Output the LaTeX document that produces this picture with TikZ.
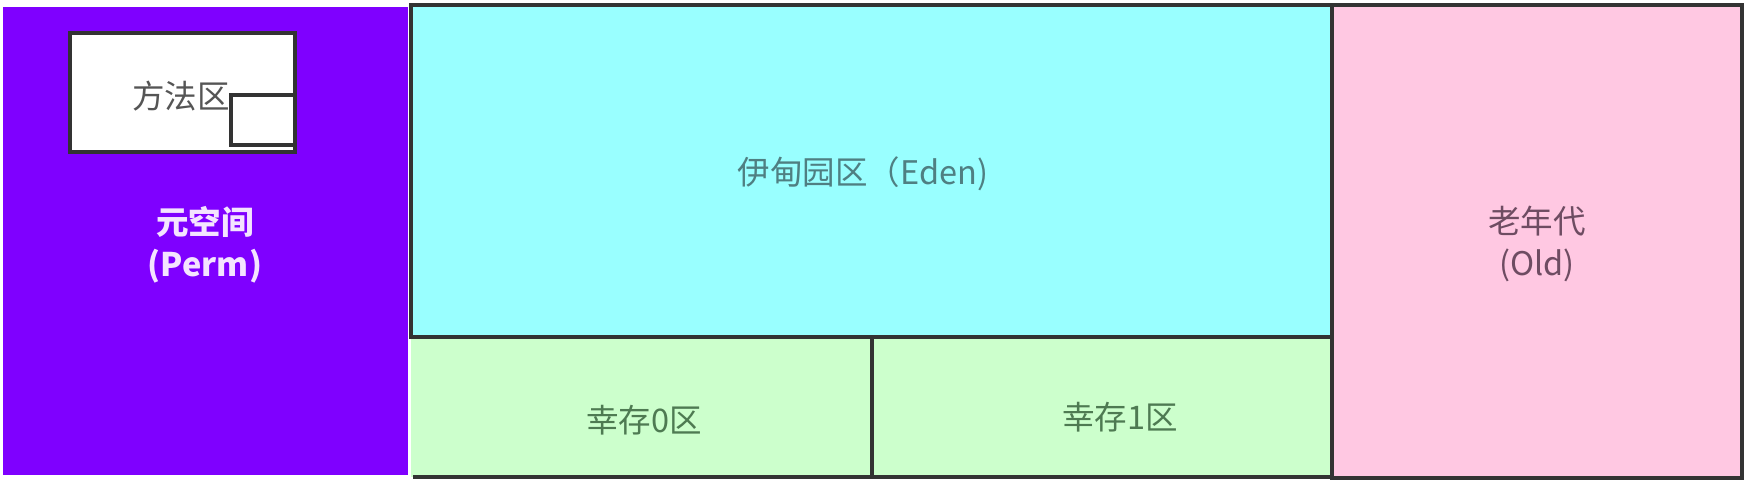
\documentclass[tikz,border=0pt]{standalone}
\usepackage{fontspec}
\setmainfont{Noto Sans CJK SC}
\definecolor{permc}{HTML}{7F00FF}
\definecolor{edenc}{HTML}{99FFFF}
\definecolor{survc}{HTML}{CCFFCC}
\definecolor{oldc}{HTML}{FFC8E2}
\definecolor{edgec}{HTML}{333333}
\definecolor{edentxt}{HTML}{4F7F82}
\definecolor{survtxt}{HTML}{4E7A52}
\definecolor{oldtxt}{HTML}{6E4C62}
\definecolor{methtxt}{HTML}{555555}
\definecolor{permtxt}{HTML}{F4E4FF}
\tikzset{
  area/.style={anchor=north west, inner sep=0pt, outer sep=0pt, draw=edgec, line width=4pt},
  lbl/.style={inner sep=0pt, align=center, font=\fontsize{32.5}{42}\selectfont}
}
\begin{document}
\begin{tikzpicture}[x=1pt,y=-1pt]
\useasboundingbox[fill=white] (0,0) rectangle (1746,486);
% Perm
\node[anchor=north west, inner sep=0pt, outer sep=0pt, fill=permc, minimum width=405pt, minimum height=468pt] (perm) at (3,7) {};
\node[lbl, text=permtxt, font=\fontsize{32.5}{42}\selectfont\bfseries] (permlbl) at (205,245) {元空间\\(Perm)};
% method area
\node[area, fill=white, minimum width=225pt, minimum height=119pt] (meth) at (70,33) {};
\node[area, fill=white, minimum width=64pt, minimum height=50pt] (methsub) at (231,95) {};
\node[lbl, text=methtxt] (methlbl) at (181,96) {方法区};
% Eden
\node[area, fill=edenc, minimum width=921pt, minimum height=332pt] (eden) at (411,5) {};
\node[lbl, text=edentxt] (edenlbl) at (863,174) {伊甸园区（Eden)};
% Survivors
\fill[survc] (411,337) rectangle (1332,477);
\coordinate (s0bl) at (413,477);
\coordinate (s1br) at (1332,477);
\coordinate (divt) at (872,337);
\coordinate (divb) at (872,477);
\draw[edgec, line width=4pt] (s0bl) -- (s1br);
\draw[edgec, line width=4pt] (divt) -- (divb);
\node[lbl, text=survtxt] (s0lbl) at (644,420) {幸存0区};
\node[lbl, text=survtxt] (s1lbl) at (1120,417) {幸存1区};
\draw[edgec, line width=4pt] (eden.south west) -- (eden.south east);
% Old
\node[area, fill=oldc, minimum width=410pt, minimum height=473pt] (old) at (1332,5) {};
\node[lbl, text=oldtxt] (oldlbl) at (1537,244) {老年代\\(Old)};
\end{tikzpicture}
\end{document}
